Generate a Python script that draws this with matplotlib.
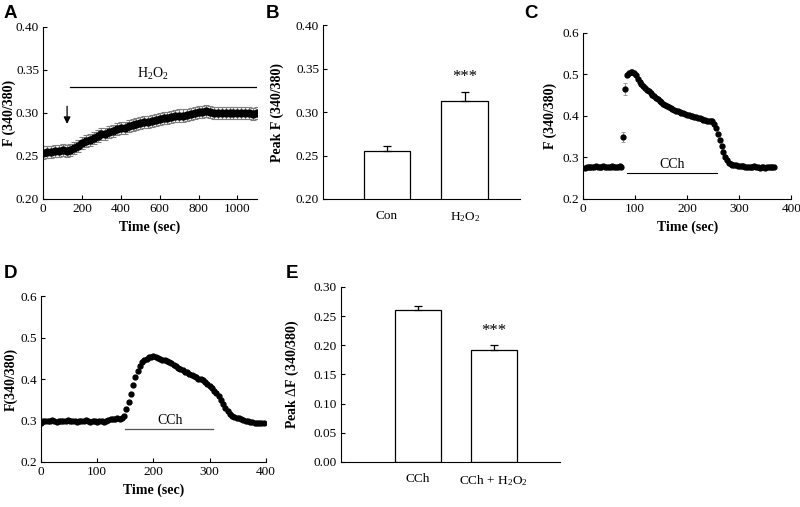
import numpy as np
import matplotlib.pyplot as plt

plt.rcParams['font.family'] = ['Liberation Serif', 'DejaVu Serif']
plt.rcParams['mathtext.fontset'] = 'custom'
plt.rcParams['mathtext.rm'] = 'Liberation Serif'
plt.rcParams['mathtext.it'] = 'Liberation Serif:italic'
plt.rcParams['mathtext.bf'] = 'Liberation Serif:bold'

# ---- panel A: H2O2 time course (every 20 s)
a_vals = [0.254, 0.255, 0.255, 0.256, 0.256, 0.257, 0.256, 0.257, 0.259, 0.262,
          0.265, 0.267, 0.269, 0.271, 0.273, 0.275, 0.276, 0.278, 0.279, 0.281,
          0.282, 0.283, 0.285, 0.286, 0.287, 0.288, 0.289, 0.290, 0.291, 0.292,
          0.293, 0.294, 0.294, 0.295, 0.296, 0.297, 0.297, 0.298, 0.299, 0.300,
          0.301, 0.301, 0.302, 0.301, 0.300, 0.300, 0.300, 0.300, 0.300, 0.300,
          0.300, 0.300, 0.300, 0.300, 0.299, 0.300]
a_err = 0.007
a_step = 20

# ---- panel B: peak F
b_labels = ['Con', r'H$_2$O$_2$']
b_vals = [0.255, 0.313]
b_err = [0.006, 0.010]

# ---- panel C: CCh time course (every 3.5 s, starting 3.5 s)
c_vals = [0.275, 0.277, 0.276, 0.278, 0.278, 0.277, 0.279, 0.278, 0.278, 0.277,
          0.279, 0.278, 0.277, 0.276, 0.278, 0.279, 0.278, 0.277, 0.278, 0.279,
          0.277, 0.350, 0.465, 0.498, 0.503, 0.505, 0.505, 0.503, 0.498, 0.490,
          0.483, 0.477, 0.472, 0.467, 0.463, 0.459, 0.455, 0.450, 0.447, 0.443,
          0.440, 0.436, 0.433, 0.430, 0.427, 0.424, 0.421, 0.419, 0.417, 0.415,
          0.413, 0.411, 0.410, 0.408, 0.406, 0.405, 0.403, 0.402, 0.400, 0.399,
          0.398, 0.397, 0.396, 0.394, 0.392, 0.391, 0.390, 0.389, 0.388, 0.388,
          0.387, 0.380, 0.370, 0.357, 0.343, 0.328, 0.314, 0.302, 0.293, 0.287,
          0.284, 0.282, 0.281, 0.281, 0.280, 0.279, 0.280, 0.279, 0.277, 0.276,
          0.276, 0.277, 0.278, 0.279, 0.277, 0.276, 0.275, 0.276, 0.276, 0.275,
          0.276, 0.277, 0.276, 0.277, 0.278]
c_err_big = {21: 0.012, 22: 0.015}
c_err = 0.004
c_step = 3.5

# ---- panel D: CCh time course (every 4 s)
d_vals = [0.293, 0.298, 0.299, 0.298, 0.300, 0.301, 0.299, 0.297, 0.298, 0.299,
          0.298, 0.300, 0.301, 0.299, 0.298, 0.298, 0.297, 0.298, 0.299, 0.300,
          0.301, 0.299, 0.297, 0.298, 0.298, 0.297, 0.298, 0.299, 0.297, 0.298,
          0.302, 0.304, 0.303, 0.304, 0.305, 0.304, 0.306, 0.312, 0.328, 0.345,
          0.365, 0.385, 0.405, 0.420, 0.432, 0.440, 0.445, 0.449, 0.452, 0.454,
          0.455, 0.452, 0.450, 0.449, 0.447, 0.446, 0.444, 0.441, 0.438, 0.435,
          0.431, 0.427, 0.424, 0.421, 0.418, 0.416, 0.413, 0.410, 0.407, 0.404,
          0.401, 0.399, 0.397, 0.393, 0.389, 0.384, 0.378, 0.372, 0.366, 0.359,
          0.350, 0.340, 0.330, 0.322, 0.316, 0.312, 0.309, 0.307, 0.305, 0.303,
          0.302, 0.300, 0.298, 0.297, 0.296, 0.295, 0.295, 0.294, 0.294, 0.294]
d_err = 0.004
d_step = 4

# ---- panel E: peak delta F
e_labels = ['CCh', r'CCh + H$_2$O$_2$']
e_vals = [0.260, 0.192]
e_err = [0.008, 0.008]

fig = plt.figure(figsize=(8, 5.07), dpi=100)
fs = 9.5
lfs = 10


def style(ax, ylab_x):
    for s in ['top', 'right']:
        ax.spines[s].set_visible(False)
    ax.tick_params(direction='in', labelsize=fs, length=3, width=0.8, pad=3)
    ax.spines['left'].set_linewidth(0.8)
    ax.spines['bottom'].set_linewidth(0.8)
    ax.yaxis.set_label_coords(ylab_x, 0.5)


def letter(x, y, s):
    fig.text(x / 800, 1 - y / 507, s, family='Liberation Sans', fontweight='bold',
             fontsize=13.5, va='top', ha='left')


# A
ax = fig.add_axes([0.054, 0.6075, 0.267, 0.3395])
t = np.arange(len(a_vals)) * a_step
ax.errorbar(t, a_vals, yerr=a_err, fmt='o', color='black', ms=5,
            ecolor='#808080', elinewidth=0.8, capsize=2, capthick=0.8)
ax.set_xlim(0, 1100)
ax.set_ylim(0.20, 0.40)
ax.set_xticks([0, 200, 400, 600, 800, 1000])
ax.set_yticks([0.20, 0.25, 0.30, 0.35, 0.40])
ax.set_yticklabels(['0.20', '0.25', '0.30', '0.35', '0.40'])
ax.plot([139, 1100], [0.330, 0.330], color='black', lw=0.9)
ax.text(565, 0.336, r'H$_2$O$_2$', ha='center', va='bottom', fontsize=10)
ax.annotate('', xy=(123, 0.284), xytext=(123, 0.311),
            arrowprops=dict(arrowstyle='-|>', color='black', lw=0.9,
                            mutation_scale=10))
ax.set_xlabel('Time (sec)', fontsize=lfs, fontweight='bold')
ax.set_ylabel('F (340/380)', fontsize=lfs, fontweight='bold')
style(ax, -0.128)

# B
ax = fig.add_axes([0.404, 0.6075, 0.246, 0.343])
x = np.arange(len(b_vals))
ax.bar(x, b_vals, width=0.6, color='white', edgecolor='black', linewidth=0.9)
ax.errorbar(x, b_vals, yerr=[[0, 0], b_err], fmt='none', ecolor='black',
            elinewidth=0.9, capsize=3, capthick=0.9)
ax.text(1, 0.331, '***', ha='center', va='bottom', fontsize=12)
ax.set_xlim(-0.82, 1.71)
ax.set_ylim(0.20, 0.40)
ax.set_yticks([0.20, 0.25, 0.30, 0.35, 0.40])
ax.set_yticklabels(['0.20', '0.25', '0.30', '0.35', '0.40'])
ax.set_xticks(x)
ax.set_xticklabels(b_labels, fontsize=8)
ax.set_ylabel('Peak F (340/380)', fontsize=lfs, fontweight='bold')
style(ax, -0.2)
ax.tick_params(axis='x', length=0, pad=8)

# C
ax = fig.add_axes([0.729, 0.6075, 0.26, 0.3275])
t = (np.arange(len(c_vals)) + 1) * c_step
err = [c_err_big.get(i, c_err) for i in range(len(c_vals))]
ax.errorbar(t, c_vals, yerr=err, fmt='o', color='black', ms=3.5,
            ecolor='#9a9a9a', elinewidth=0.7, capsize=1.5, capthick=0.7)
ax.plot([84, 258], [0.263, 0.263], color='black', lw=0.8)
ax.text(171, 0.268, 'CCh', ha='center', va='bottom', fontsize=10)
ax.set_xlim(0, 400)
ax.set_ylim(0.2, 0.6)
ax.set_xticks([0, 100, 200, 300, 400])
ax.set_yticks([0.2, 0.3, 0.4, 0.5, 0.6])
ax.set_xlabel('Time (sec)', fontsize=lfs, fontweight='bold')
ax.set_ylabel('F (340/380)', fontsize=lfs, fontweight='bold')
style(ax, -0.125)

# D
ax = fig.add_axes([0.051, 0.0888, 0.2815, 0.3272])
t = np.arange(len(d_vals)) * d_step
ax.errorbar(t, d_vals, yerr=d_err, fmt='o', color='black', ms=3.5,
            ecolor='#a0a0a0', elinewidth=0.7, capsize=1.5, capthick=0.7)
ax.plot([149, 306], [0.279, 0.279], color='#555555', lw=0.9)
ax.text(230, 0.284, 'CCh', ha='center', va='bottom', fontsize=10)
ax.set_xlim(0, 400)
ax.set_ylim(0.2, 0.6)
ax.set_xticks([0, 100, 200, 300, 400])
ax.set_yticks([0.2, 0.3, 0.4, 0.5, 0.6])
ax.set_xlabel('Time (sec)', fontsize=lfs, fontweight='bold')
ax.set_ylabel('F(340/380)', fontsize=lfs, fontweight='bold')
style(ax, -0.1)

# E
ax = fig.add_axes([0.426, 0.0888, 0.274, 0.3452])
x = np.arange(len(e_vals))
ax.bar(x, e_vals, width=0.6, color='white', edgecolor='black', linewidth=0.9)
ax.errorbar(x, e_vals, yerr=[[0, 0], e_err], fmt='none', ecolor='black',
            elinewidth=0.9, capsize=3, capthick=0.9)
ax.text(1, 0.211, '***', ha='center', va='bottom', fontsize=12)
ax.set_xlim(-1.01, 1.87)
ax.set_ylim(0, 0.30)
ax.set_yticks([0, 0.05, 0.10, 0.15, 0.20, 0.25, 0.30])
ax.set_yticklabels(['0.00', '0.05', '0.10', '0.15', '0.20', '0.25', '0.30'])
ax.set_xticks(x)
ax.set_xticklabels(e_labels, fontsize=8)
ax.set_ylabel(r'Peak $\Delta$F (340/380)', fontsize=lfs, fontweight='bold')
style(ax, -0.18)
ax.tick_params(axis='x', length=0, pad=8)

letter(4, 5, 'A')
letter(266, 5, 'B')
letter(524, 5, 'C')
letter(4, 265, 'D')
letter(286, 265, 'E')

fig.savefig('out.png', dpi=100)
